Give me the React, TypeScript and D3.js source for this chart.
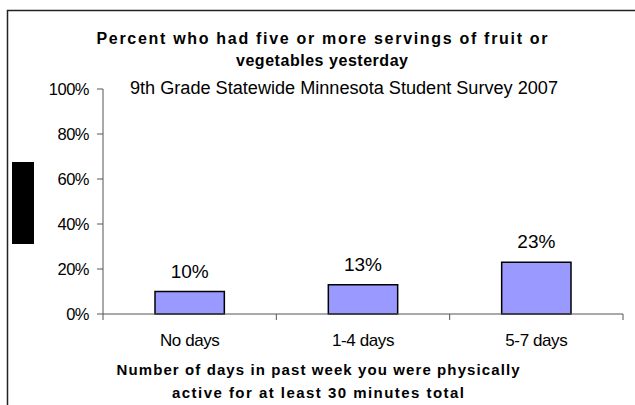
import React from "react";
import * as d3 from "d3";

const categories = ["No days", "1-4 days", "5-7 days"];
const values = [10, 13, 23];
const valueLabels = ["10%", "13%", "23%"];
const yTicks = [0, 20, 40, 60, 80, 100];
const titleLines = ["Percent who had five or more servings of fruit or", "vegetables yesterday"];
const subtitle = "9th Grade Statewide Minnesota Student Survey 2007";
const xTitleLines = ["Number of days in past week you were physically", "active for at least 30 minutes total"];

const W = 635;
const H = 405;
const plot = { left: 103, right: 623, top: 89, bottom: 314 };
const font = "'Liberation Sans', Arial, sans-serif";

export default function App() {
  const x = d3.scaleBand<string>().domain(categories).range([plot.left, plot.right]).paddingInner(0.6).paddingOuter(0.3);
  const xb = d3.scaleBand<string>().domain(categories).range([plot.left, plot.right]);
  const y = d3.scaleLinear().domain([0, 100]).range([plot.bottom, plot.top]);
  const titleW = [451, 172];
  const xTitleW = [403, 292];
  return (
    <svg width={W} height={H} style={{ position: "absolute", left: 0, top: 0, fontFamily: font }}>
      <rect x={0} y={0} width={W} height={H} fill="#fff" />
      <path d={`M7.5,${H} V10.5 H${W}`} fill="none" stroke="#222" strokeWidth={1.5} />
      <rect x={12} y={162} width={22} height={82} fill="#000" />
      {titleLines.map((t, i) => (
        <text key={t} x={322} y={44 + i * 22} textAnchor="middle" fontSize={16} fontWeight="bold" textLength={titleW[i]} lengthAdjust="spacing" fill="#000">{t}</text>
      ))}
      <text x={344} y={94} textAnchor="middle" fontSize={18} textLength={428} lengthAdjust="spacingAndGlyphs" fill="#000">{subtitle}</text>
      {/* y axis */}
      <line x1={plot.left} x2={plot.left} y1={plot.top} y2={plot.bottom} stroke="#555" />
      {yTicks.map((t) => (
        <g key={t}>
          <line x1={plot.left - 6} x2={plot.left} y1={y(t)} y2={y(t)} stroke="#555" />
          <text x={89} y={y(t) + 6} textAnchor="end" fontSize={16.5} letterSpacing={-0.5} fill="#000">{t}%</text>
        </g>
      ))}
      {/* bars */}
      {categories.map((c, i) => (
        <g key={c}>
          <rect x={x(c)!} y={y(values[i])} width={x.bandwidth()} height={plot.bottom - y(values[i])} fill="#9999FF" stroke="#000" strokeWidth={1.5} />
          <text x={x(c)! + x.bandwidth() / 2} y={y(values[i]) - 14} textAnchor="middle" fontSize={19} fill="#000">{valueLabels[i]}</text>
          <text x={xb(c)! + xb.bandwidth() / 2} y={346} textAnchor="middle" fontSize={17} letterSpacing={-0.4} fill="#000">{c}</text>
        </g>
      ))}
      {/* x axis */}
      <line x1={plot.left} x2={plot.right} y1={plot.bottom} y2={plot.bottom} stroke="#555" />
      {[...categories.map((c) => xb(c)!), plot.right].map((v, i) => (
        <line key={i} x1={v} x2={v} y1={plot.bottom} y2={plot.bottom + 6} stroke="#555" />
      ))}
      {xTitleLines.map((t, i) => (
        <text key={t} x={318} y={375 + i * 23} textAnchor="middle" fontSize={15} fontWeight="bold" textLength={xTitleW[i]} lengthAdjust="spacing" fill="#000">{t}</text>
      ))}
    </svg>
  );
}
